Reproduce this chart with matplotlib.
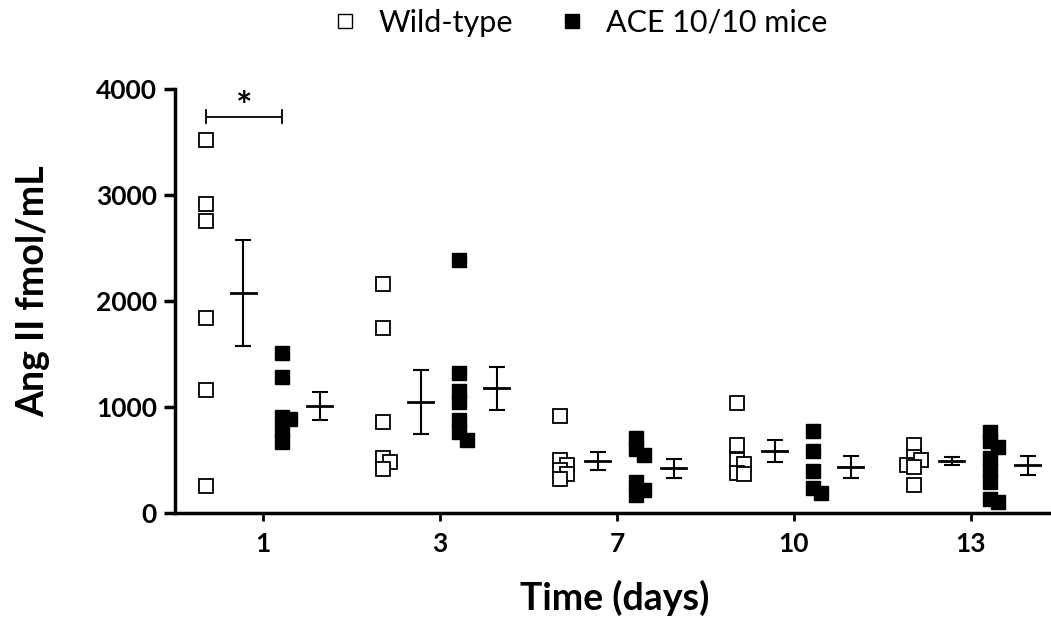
import numpy as np
import matplotlib
matplotlib.use('Agg')
import matplotlib.pyplot as plt
from matplotlib.lines import Line2D

plt.rcParams['font.family'] = ['Lato', 'DejaVu Sans']

# data
days = ['1', '3', '7', '10', '13']
wt_vals = [
    [3515, 2918, 2751, 1840, 1163, 251],
    [2157, 1742, 861, 522, 478, 412],
    [911, 500, 450, 410, 370, 320],
    [1040, 638, 503, 459, 380, 365],
    [644, 527, 503, 456, 432, 264],
]
ace_vals = [
    [1507, 1280, 902, 887, 786, 667],
    [2383, 1324, 1147, 1047, 880, 760, 691],
    [706, 600, 550, 290, 220, 170],
    [770, 581, 399, 236, 189],
    [760, 680, 620, 520, 410, 290, 130, 100],
]
wt_mean = [2075, 1047, 489, 582, 488]
wt_sem = [498, 301, 88, 102, 37]
ace_mean = [1006, 1176, 421, 434, 450]
ace_sem = [132, 206, 91, 107, 88]


def swarm_offsets(vals, dv=75, dx=0.04):
    # crude spread of overlapping points
    placed = []
    offs = []
    for v in vals:
        for k in [0, 1, -1, 2, -2]:
            o = k * dx
            if all(abs(v - pv) > dv or abs(o - po) > dx * 0.9 for pv, po in placed):
                break
        placed.append((v, o))
        offs.append(o)
    return offs


fig = plt.figure(figsize=(10.51, 6.23), dpi=100)
ax = fig.add_axes([0.1665, 0.1766, 0.8335, 0.6805])

x = np.arange(len(days))
for i in range(len(days)):
    xo = swarm_offsets(wt_vals[i])
    ax.plot(x[i] - 0.32 + np.array(xo), wt_vals[i], 's', ms=10, mfc='white',
            mec='black', mew=1.3, ls='none', zorder=3, clip_on=False)
    xo = swarm_offsets(ace_vals[i])
    ax.plot(x[i] + 0.11 + np.array(xo), ace_vals[i], 's', ms=10.5, mfc='black',
            mec='black', mew=1, ls='none', zorder=3, clip_on=False)
    for xc, m, s in [(x[i] - 0.11, wt_mean[i], wt_sem[i]),
                     (x[i] + 0.32, ace_mean[i], ace_sem[i])]:
        ax.errorbar(xc, m, yerr=s, fmt='none', ecolor='black', elinewidth=1.5,
                    capsize=6, capthick=1.5, zorder=2)
        ax.plot([xc - 0.07, xc + 0.07], [m, m], color='black', lw=2, zorder=2)

# significance bracket
ax.plot([-0.32, 0.11], [3740, 3740], color='black', lw=1.3)
ax.plot([-0.32, -0.32], [3680, 3800], color='black', lw=1.3)
ax.plot([0.11, 0.11], [3680, 3800], color='black', lw=1.3)
ax.text(-0.105, 3830, '*', ha='center', va='center', fontsize=28, fontweight='bold')

ax.set_xlim(-0.497, 4.452)
ax.set_ylim(0, 4000)
ax.set_yticks([0, 1000, 2000, 3000, 4000])
ax.set_xticks(x)
ax.set_xticklabels(days)
for sp in ['top', 'right']:
    ax.spines[sp].set_visible(False)
for sp in ['left', 'bottom']:
    ax.spines[sp].set_linewidth(2.5)
ax.tick_params(axis='y', width=2.5, length=8, labelsize=19, pad=5)
ax.tick_params(axis='x', width=2, length=6, labelsize=19, pad=8)
for lab in ax.get_xticklabels() + ax.get_yticklabels():
    lab.set_fontweight('bold')
ax.set_ylabel('Ang II fmol/mL', fontsize=27, fontweight='bold')
ax.yaxis.set_label_coords(-0.143, 0.524)
ax.set_xlabel('Time (days)', fontsize=27, fontweight='bold')
ax.xaxis.set_label_coords(0.502, -0.158)

handles = [Line2D([], [], marker='s', ls='none', ms=9.5, mfc='white', mec='black', mew=1),
           Line2D([], [], marker='s', ls='none', ms=9.5, mfc='black', mec='black')]
fig.legend(handles, ['Wild-type', 'ACE 10/10 mice'], loc='upper center',
           bbox_to_anchor=(0.55, 1.03), ncol=2, frameon=False, fontsize=22,
           handletextpad=0.6, columnspacing=1.44, handlelength=1.0)

fig.savefig('out.png', dpi=100)
